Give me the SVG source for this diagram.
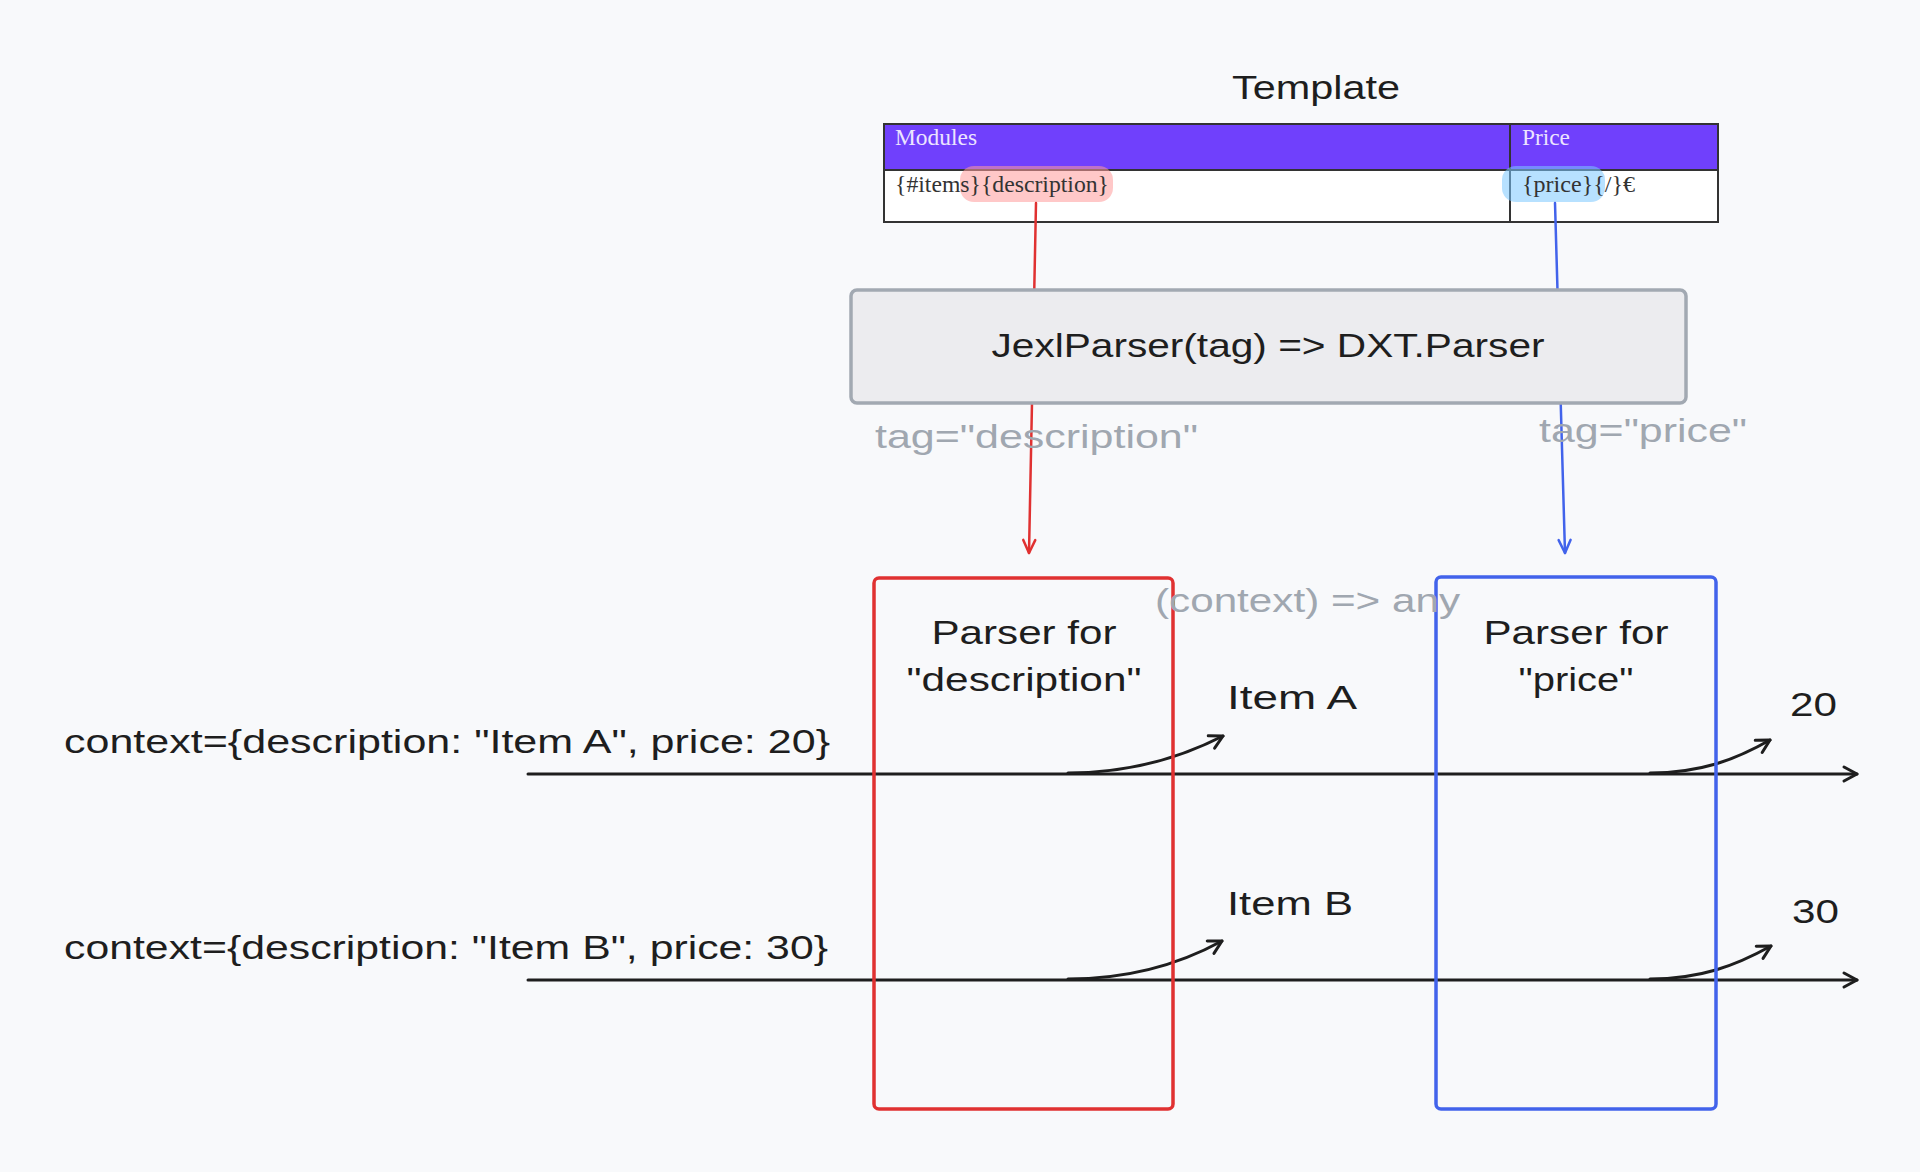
<svg xmlns="http://www.w3.org/2000/svg" width="1920" height="1172" viewBox="0 0 1920 1172">
<defs>
<style>
.hw{font-family:"Liberation Sans","DejaVu Sans",sans-serif;fill:#1e1e1e;font-size:34px}
.gray{fill:#a0a7b0}
.tbl{font-family:"Liberation Serif","DejaVu Serif",serif;font-size:23px}
.ln{fill:none;stroke-linecap:round;stroke-linejoin:round}
</style>
<marker id="ahK" viewBox="-16 -10 20 20" markerWidth="20" markerHeight="20" refX="0" refY="0" orient="auto" markerUnits="userSpaceOnUse"><path d="M-13,-7 L0,0 L-13,7" fill="none" stroke="#1e1e1e" stroke-width="3" stroke-linecap="round" stroke-linejoin="round"/></marker>
<marker id="ahR" viewBox="-16 -10 20 20" markerWidth="20" markerHeight="20" refX="0" refY="0" orient="auto" markerUnits="userSpaceOnUse"><path d="M-13,-6 L0,0 L-13,6" fill="none" stroke="#e03131" stroke-width="2.5" stroke-linecap="round" stroke-linejoin="round"/></marker>
<marker id="ahB" viewBox="-16 -10 20 20" markerWidth="20" markerHeight="20" refX="0" refY="0" orient="auto" markerUnits="userSpaceOnUse"><path d="M-13,-6 L0,0 L-13,6" fill="none" stroke="#4263eb" stroke-width="2.5" stroke-linecap="round" stroke-linejoin="round"/></marker>
</defs>
<rect width="1920" height="1172" fill="#f8f9fb"/>

<g id="template">
<text class="hw" x="1316" y="99" text-anchor="middle" textLength="168" lengthAdjust="spacingAndGlyphs">Template</text>
<rect x="884" y="124" width="834" height="98" fill="#ffffff" stroke="#333" stroke-width="2"/>
<rect x="885" y="125" width="832" height="45" fill="#7040fc"/>
<line x1="884" y1="170" x2="1718" y2="170" stroke="#333" stroke-width="2"/>
<line x1="1510" y1="124" x2="1510" y2="222" stroke="#333" stroke-width="2"/>
<rect x="960" y="166" width="153" height="36" rx="14" fill="#ff9a9a" fill-opacity="0.55"/>
<rect x="1502" y="166" width="103" height="36" rx="14" fill="#7cc8ff" fill-opacity="0.55"/>
<text class="tbl" x="895" y="145" fill="#ece4ff" textLength="82" lengthAdjust="spacingAndGlyphs">Modules</text>
<text class="tbl" x="1522" y="145" fill="#ece4ff" textLength="48" lengthAdjust="spacingAndGlyphs">Price</text>
<text class="tbl" x="895" y="192" fill="#333" textLength="214" lengthAdjust="spacingAndGlyphs">{#items}{description}</text>
<text class="tbl" x="1522" y="192" fill="#333" textLength="113" lengthAdjust="spacingAndGlyphs">{price}{/}€</text>
</g>

<g id="connectors">
<path class="ln" d="M1036,203 L1029,553" stroke="#e03131" stroke-width="2.5" marker-end="url(#ahR)"/>
<path class="ln" d="M1555,203 L1565,553" stroke="#4263eb" stroke-width="2.5" marker-end="url(#ahB)"/>
<path class="ln" d="M528,774 L1857,774" stroke="#1e1e1e" stroke-width="3" marker-end="url(#ahK)"/>
<path class="ln" d="M528,980 L1857,980" stroke="#1e1e1e" stroke-width="3" marker-end="url(#ahK)"/>
<path class="ln" d="M1068,773 C1130,773 1180,758 1223,736" stroke="#1e1e1e" stroke-width="3" marker-end="url(#ahK)"/>
<path class="ln" d="M1650,773 C1700,773 1735,760 1770,740" stroke="#1e1e1e" stroke-width="3" marker-end="url(#ahK)"/>
<path class="ln" d="M1068,979 C1130,979 1180,964 1222,941" stroke="#1e1e1e" stroke-width="3" marker-end="url(#ahK)"/>
<path class="ln" d="M1650,979 C1700,979 1735,966 1771,946" stroke="#1e1e1e" stroke-width="3" marker-end="url(#ahK)"/>
</g>

<g id="jexl">
<rect x="851" y="290" width="835" height="113" rx="6" fill="#ececef" stroke="#a2a9b2" stroke-width="3.5"/>
<text class="hw" x="1268" y="357" text-anchor="middle" textLength="553" lengthAdjust="spacingAndGlyphs">JexlParser(tag) =&gt; DXT.Parser</text>
</g>

<g id="labels">
<text class="hw gray" x="875" y="448" textLength="323" lengthAdjust="spacingAndGlyphs">tag="description"</text>
<text class="hw gray" x="1539" y="442" textLength="208" lengthAdjust="spacingAndGlyphs">tag="price"</text>
</g>

<g id="parser-description">
<rect x="874" y="578" width="299" height="531" rx="5" fill="none" stroke="#e03131" stroke-width="3.5"/>
<text class="hw" x="1024" y="644" text-anchor="middle" textLength="185" lengthAdjust="spacingAndGlyphs">Parser for</text>
<text class="hw" x="1024" y="691" text-anchor="middle" textLength="235" lengthAdjust="spacingAndGlyphs">"description"</text>
</g>

<g id="parser-price">
<rect x="1436" y="577" width="280" height="532" rx="5" fill="none" stroke="#4263eb" stroke-width="3.5"/>
<text class="hw" x="1576" y="644" text-anchor="middle" textLength="185" lengthAdjust="spacingAndGlyphs">Parser for</text>
<text class="hw" x="1576" y="691" text-anchor="middle" textLength="115" lengthAdjust="spacingAndGlyphs">"price"</text>
</g>

<g id="context-sig">
<text class="hw gray" x="1155" y="612" textLength="305" lengthAdjust="spacingAndGlyphs">(context) =&gt; any</text>
</g>

<g id="contexts">
<text class="hw" x="64" y="753" textLength="766" lengthAdjust="spacingAndGlyphs">context={description: "Item A", price: 20}</text>
<text class="hw" x="64" y="959" textLength="764" lengthAdjust="spacingAndGlyphs">context={description: "Item B", price: 30}</text>
</g>

<g id="outputs">
<text class="hw" x="1227" y="709" textLength="130" lengthAdjust="spacingAndGlyphs">Item A</text>
<text class="hw" x="1790" y="716" textLength="47" lengthAdjust="spacingAndGlyphs">20</text>
<text class="hw" x="1227" y="915" textLength="126" lengthAdjust="spacingAndGlyphs">Item B</text>
<text class="hw" x="1792" y="923" textLength="47" lengthAdjust="spacingAndGlyphs">30</text>
</g>
</svg>
